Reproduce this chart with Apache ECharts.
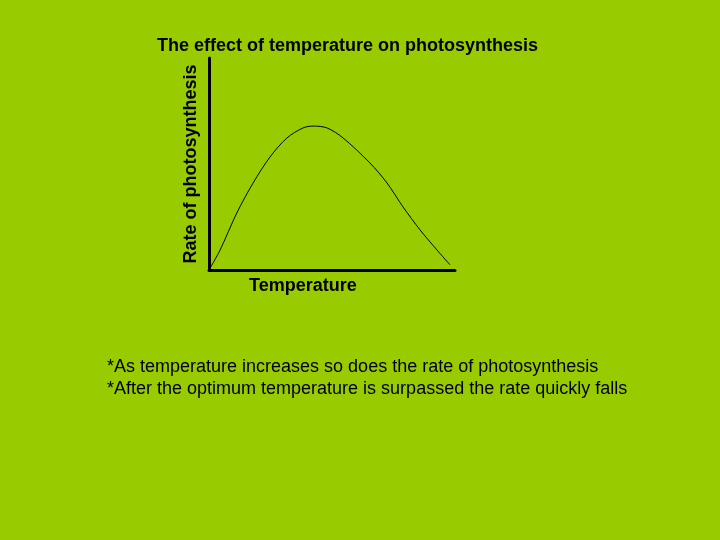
<!DOCTYPE html>
<html><head><meta charset="utf-8">
<script src="https://cdn.jsdelivr.net/npm/echarts@6/dist/echarts.min.js"></script>
<style>html,body{margin:0;padding:0;background:#99cc00}#c{width:720px;height:540px}</style>
</head><body><div id="c"></div>
<script>
const titleText = "The effect of temperature on photosynthesis";
const xName = "Temperature";
const yName = "Rate of photosynthesis";
const notes = ["*As temperature increases so does the rate of photosynthesis",
               "*After the optimum temperature is surpassed the rate quickly falls"];
const temperature = [0, 4.5, 11.3, 17.9, 24.8, 31.7, 38.2, 42.3, 48, 54.5, 65.4, 72.4, 78.9, 85.8, 92.7, 98];
const rate =        [0, 9.4, 26.9, 41,   53.3, 62.3, 67,   67.9, 67, 62.3, 50.5, 41,   29.7, 18.9, 9.4,  2.4];

const chart = echarts.init(document.getElementById('c'));
const font = 'Liberation Sans, Arial, sans-serif';
chart.setOption({
  backgroundColor: '#99cc00',
  animation: false,
  title: {text: titleText, left: 152, top: 32,
    textStyle: {fontFamily: font, fontWeight: 'bold', fontSize: 18, color: '#000'}},
  grid: {left: 209, top: 58, width: 246, height: 212},
  xAxis: {type: 'value', min: 0, max: 100,
    axisLine: {show: true, lineStyle: {color: '#000', width: 3}},
    axisTick: {show: false}, axisLabel: {show: false}, splitLine: {show: false}},
  yAxis: {type: 'value', min: 0, max: 100, name: yName, nameLocation: 'middle', nameGap: 9,
    nameTextStyle: {fontFamily: font, fontWeight: 'bold', fontSize: 18, color: '#000'},
    axisLine: {show: true, lineStyle: {color: '#000', width: 3}},
    axisTick: {show: false}, axisLabel: {show: false}, splitLine: {show: false}},
  series: [{type: 'line', smooth: 0.3, symbol: 'none',
    data: temperature.map((t, i) => [t, rate[i]]),
    lineStyle: {color: '#000', width: 1}}],
  graphic: [
    {type: 'text', left: 249, top: 277, style: {text: xName, font: 'bold 18px ' + font, fill: '#000'}},
    {type: 'text', left: 107, top: 358, style: {text: notes[0], font: '18px ' + font, fill: '#000'}},
    {type: 'text', left: 107, top: 380, style: {text: notes[1], font: '18px ' + font, fill: '#000'}}
  ]
});
</script></body></html>
